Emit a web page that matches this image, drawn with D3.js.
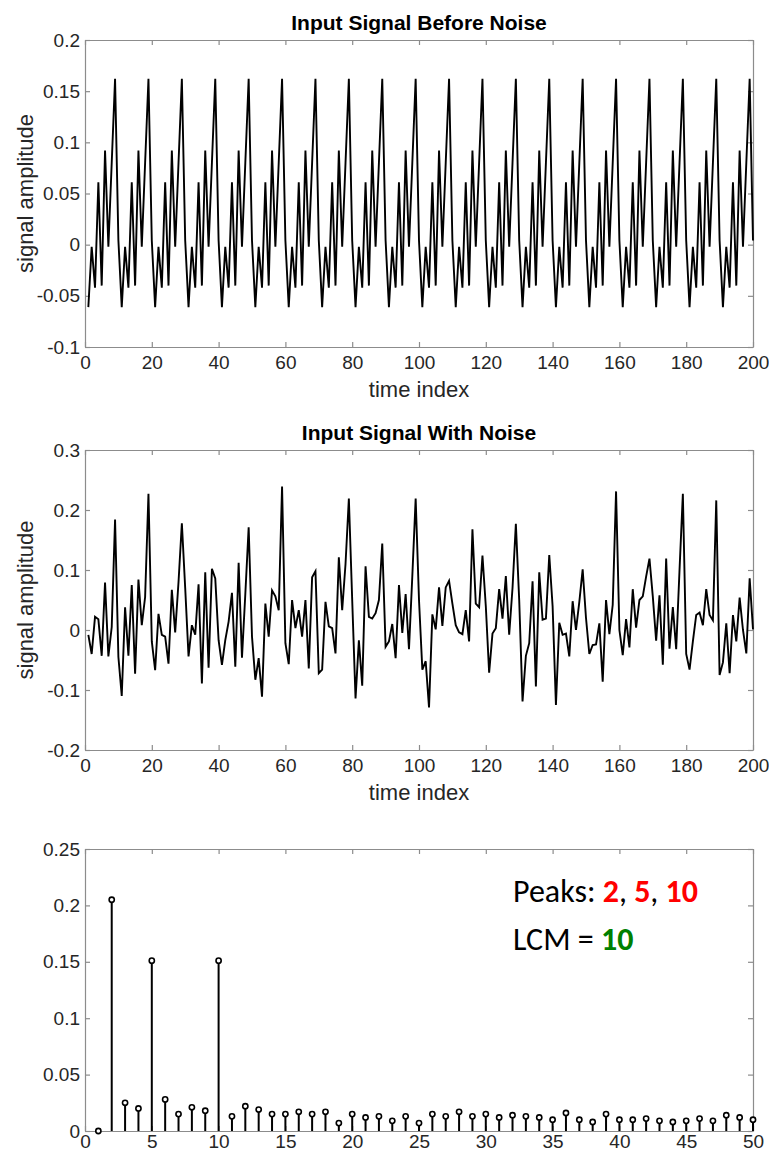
<!DOCTYPE html>
<html>
<head>
<meta charset="utf-8">
<script src="https://cdn.jsdelivr.net/npm/d3@7/dist/d3.min.js"></script>
<style>
    body { margin: 0; background: #fff; }
</style>
</head>
<body>
<div id="chart-area"></div>
<script>
    // Signal before noise, samples 1..200
    const cleanSignal = [
        -0.061, -0.002, -0.042, 0.061, -0.040, 0.092, -0.002, 0.080, 0.162, 0.004,
        -0.061, -0.002, -0.042, 0.061, -0.040, 0.092, -0.002, 0.080, 0.162, 0.004,
        -0.061, -0.002, -0.042, 0.061, -0.040, 0.092, -0.002, 0.080, 0.162, 0.004,
        -0.061, -0.002, -0.042, 0.061, -0.040, 0.092, -0.002, 0.080, 0.162, 0.004,
        -0.061, -0.002, -0.042, 0.061, -0.040, 0.092, -0.002, 0.080, 0.162, 0.004,
        -0.061, -0.002, -0.042, 0.061, -0.040, 0.092, -0.002, 0.080, 0.162, 0.004,
        -0.061, -0.002, -0.042, 0.061, -0.040, 0.092, -0.002, 0.080, 0.162, 0.004,
        -0.061, -0.002, -0.042, 0.061, -0.040, 0.092, -0.002, 0.080, 0.162, 0.004,
        -0.061, -0.002, -0.042, 0.061, -0.040, 0.092, -0.002, 0.080, 0.162, 0.004,
        -0.061, -0.002, -0.042, 0.061, -0.040, 0.092, -0.002, 0.080, 0.162, 0.004,
        -0.061, -0.002, -0.042, 0.061, -0.040, 0.092, -0.002, 0.080, 0.162, 0.004,
        -0.061, -0.002, -0.042, 0.061, -0.040, 0.092, -0.002, 0.080, 0.162, 0.004,
        -0.061, -0.002, -0.042, 0.061, -0.040, 0.092, -0.002, 0.080, 0.162, 0.004,
        -0.061, -0.002, -0.042, 0.061, -0.040, 0.092, -0.002, 0.080, 0.162, 0.004,
        -0.061, -0.002, -0.042, 0.061, -0.040, 0.092, -0.002, 0.080, 0.162, 0.004,
        -0.061, -0.002, -0.042, 0.061, -0.040, 0.092, -0.002, 0.080, 0.162, 0.004,
        -0.061, -0.002, -0.042, 0.061, -0.040, 0.092, -0.002, 0.080, 0.162, 0.004,
        -0.061, -0.002, -0.042, 0.061, -0.040, 0.092, -0.002, 0.080, 0.162, 0.004,
        -0.061, -0.002, -0.042, 0.061, -0.040, 0.092, -0.002, 0.080, 0.162, 0.004,
        -0.061, -0.002, -0.042, 0.061, -0.040, 0.092, -0.002, 0.080, 0.162, 0.004
    ];

    // Same signal with noise added, samples 1..200
    const noisySignal = [
        -0.008, -0.040, 0.022, 0.018, -0.043, 0.079, -0.044, 0.005, 0.184, -0.045,
        -0.110, 0.038, -0.043, 0.075, -0.073, 0.084, 0.008, 0.055, 0.227, -0.019,
        -0.067, 0.027, -0.008, -0.011, -0.056, 0.067, -0.004, 0.080, 0.178, 0.070,
        -0.044, 0.008, -0.008, 0.076, -0.089, 0.096, -0.063, 0.102, 0.086, -0.017,
        -0.058, -0.017, 0.014, 0.062, -0.061, 0.112, -0.046, 0.060, 0.171, -0.011,
        -0.083, -0.047, -0.111, 0.044, -0.011, 0.066, 0.056, 0.033, 0.239, -0.022,
        -0.057, 0.050, 0.003, 0.033, -0.011, 0.050, -0.064, 0.088, 0.098, -0.072,
        -0.066, 0.047, 0.006, 0.003, -0.039, 0.121, 0.033, 0.110, 0.219, 0.050,
        -0.114, -0.017, -0.093, 0.106, 0.022, 0.019, 0.028, 0.050, 0.144, -0.028,
        -0.019, 0.010, -0.047, 0.075, -0.005, 0.060, -0.032, 0.090, 0.219, 0.050,
        -0.066, -0.052, -0.129, 0.026, 0.001, 0.071, 0.007, 0.071, 0.082, 0.044,
        0.008, -0.004, -0.007, 0.033, -0.019, 0.168, 0.044, 0.038, 0.124, 0.040,
        -0.071, -0.006, 0.003, 0.068, 0.019, 0.090, -0.008, 0.070, 0.177, 0.050,
        -0.119, -0.043, -0.022, 0.081, -0.094, 0.096, 0.017, 0.019, 0.125, 0.040,
        -0.125, 0.012, -0.008, -0.006, -0.044, 0.048, 0.000, 0.047, 0.101, 0.020,
        -0.040, -0.025, -0.024, 0.011, -0.086, 0.050, -0.007, 0.042, 0.231, 0.000,
        -0.042, 0.018, -0.029, 0.068, 0.004, 0.050, 0.056, 0.089, 0.119, 0.056,
        -0.018, 0.058, -0.058, 0.119, -0.031, 0.038, -0.032, 0.100, 0.227, -0.040,
        -0.066, -0.019, 0.025, 0.029, 0.008, 0.068, 0.025, 0.016, 0.216, -0.075,
        -0.054, 0.011, -0.072, 0.025, -0.019, 0.054, 0.000, -0.039, 0.086, 0.001
    ];

    // Periodicity spectrum, periods 1..50
    const spectrum = [
        0.000, 0.205, 0.025, 0.020, 0.151, 0.028, 0.015, 0.021, 0.018, 0.151,
        0.013, 0.022, 0.019, 0.015, 0.015, 0.017, 0.015, 0.017, 0.007, 0.015,
        0.012, 0.013, 0.009, 0.013, 0.007, 0.015, 0.013, 0.017, 0.013, 0.015,
        0.012, 0.014, 0.013, 0.012, 0.010, 0.016, 0.010, 0.008, 0.015, 0.010,
        0.010, 0.011, 0.009, 0.008, 0.009, 0.011, 0.009, 0.014, 0.012, 0.010
    ];

    // Tick labels
    const timeTicks = [0, 20, 40, 60, 80, 100, 120, 140, 160, 180, 200];
    const cleanTicks = [-0.1, -0.05, 0, 0.05, 0.1, 0.15, 0.2];
    const noisyTicks = [-0.2, -0.1, 0, 0.1, 0.2, 0.3];
    const periodTicks = [0, 5, 10, 15, 20, 25, 30, 35, 40, 45, 50];
    const spectrumTicks = [0, 0.05, 0.1, 0.15, 0.2, 0.25];

    const WIDTH = 769;
    const HEIGHT = 1156;
    const LEFT = 85, RIGHT = 753;
    const AXIS_COLOR = '#8c8c8c';
    const TEXT_COLOR = '#262626';
    const FONT = '"Liberation Sans", Arial, sans-serif';

    const svg = d3.select('#chart-area').append('svg')
        .attr('width', WIDTH)
        .attr('height', HEIGHT)
        .style('display', 'block');

    svg.append('rect')
        .attr('width', WIDTH)
        .attr('height', HEIGHT)
        .attr('fill', '#fff');

    // Boxed MATLAB-style axes, inward ticks mirrored on all four sides
    function makeAxes(top, bottom, xDomain, yDomain, xTicks, yTicks, xPad) {
        const w = RIGHT - LEFT;
        const h = bottom - top;
        const g = svg.append('g').attr('transform', `translate(${LEFT},${top})`);

        const x = d3.scaleLinear().domain(xDomain).range([0, w]);
        const y = d3.scaleLinear().domain(yDomain).range([h, 0]);

        const fmt = d => String(d);

        const xAxis = g.append('g')
            .attr('transform', `translate(0,${h})`)
            .call(d3.axisBottom(x).tickValues(xTicks).tickFormat(fmt)
                .tickSize(-5).tickSizeOuter(0).tickPadding(xPad));
        const yAxis = g.append('g')
            .call(d3.axisLeft(y).tickValues(yTicks).tickFormat(fmt)
                .tickSize(-5).tickSizeOuter(0).tickPadding(5));
        const xTop = g.append('g')
            .call(d3.axisTop(x).tickValues(xTicks).tickFormat('')
                .tickSize(-5).tickSizeOuter(0));
        const yRight = g.append('g')
            .attr('transform', `translate(${w},0)`)
            .call(d3.axisRight(y).tickValues(yTicks).tickFormat('')
                .tickSize(-5).tickSizeOuter(0));

        [xAxis, yAxis, xTop, yRight].forEach(a => {
            a.selectAll('path, line').attr('stroke', AXIS_COLOR).attr('stroke-width', 1.2);
            a.selectAll('text')
                .attr('font-size', '19px')
                .attr('font-family', FONT)
                .attr('fill', TEXT_COLOR);
        });

        return {g, x, y, w, h};
    }

    function addLabels(ax, title, top) {
        svg.append('text')
            .attr('x', LEFT + ax.w / 2)
            .attr('y', top - 10)
            .attr('text-anchor', 'middle')
            .attr('font-family', FONT)
            .attr('font-weight', 'bold')
            .attr('font-size', '21px')
            .attr('fill', '#000')
            .text(title);
        svg.append('text')
            .attr('x', LEFT + ax.w / 2)
            .attr('y', top + ax.h + 50)
            .attr('text-anchor', 'middle')
            .attr('font-family', FONT)
            .attr('font-size', '22px')
            .attr('fill', TEXT_COLOR)
            .text('time index');
        svg.append('text')
            .attr('transform', `translate(33,${top + ax.h / 2}) rotate(-90)`)
            .attr('text-anchor', 'middle')
            .attr('font-family', FONT)
            .attr('font-size', '22px')
            .attr('fill', TEXT_COLOR)
            .text('signal amplitude');
    }

    const line = (ax) => d3.line()
        .x((d, i) => ax.x(i + 1))
        .y(d => ax.y(d));

    // Panel 1: signal before noise
    const top1 = 40, bottom1 = 347;
    const ax1 = makeAxes(top1, bottom1, [0, 200], [-0.1, 0.2], timeTicks, cleanTicks, 9);
    ax1.g.append('path')
        .datum(cleanSignal)
        .attr('d', line(ax1))
        .attr('fill', 'none')
        .attr('stroke', '#000')
        .attr('stroke-width', 1.9);
    addLabels(ax1, 'Input Signal Before Noise', top1);

    // Panel 2: signal with noise
    const top2 = 450, bottom2 = 750;
    const ax2 = makeAxes(top2, bottom2, [0, 200], [-0.2, 0.3], timeTicks, noisyTicks, 9);
    ax2.g.append('path')
        .datum(noisySignal)
        .attr('d', line(ax2))
        .attr('fill', 'none')
        .attr('stroke', '#000')
        .attr('stroke-width', 1.9);
    addLabels(ax2, 'Input Signal With Noise', top2);

    // Panel 3: stem plot of the spectrum
    const top3 = 849, bottom3 = 1131;
    const ax3 = makeAxes(top3, bottom3, [0, 50], [0, 0.25], periodTicks, spectrumTicks, 3);
    const stems = ax3.g.selectAll('.stem')
        .data(spectrum)
        .enter()
        .append('g')
        .attr('class', 'stem');
    stems.append('line')
        .attr('x1', (d, i) => ax3.x(i + 1))
        .attr('x2', (d, i) => ax3.x(i + 1))
        .attr('y1', ax3.y(0))
        .attr('y2', d => ax3.y(d))
        .attr('stroke', '#000')
        .attr('stroke-width', 2);
    stems.append('circle')
        .attr('cx', (d, i) => ax3.x(i + 1))
        .attr('cy', d => ax3.y(d))
        .attr('r', 2.6)
        .attr('fill', '#fff')
        .attr('stroke', '#000')
        .attr('stroke-width', 1.6);

    // Annotation
    const note = svg.append('g')
        .attr('font-family', 'Carlito, Calibri, Lato, sans-serif')
        .attr('font-size', '32px');
    const peaks = note.append('text').attr('x', 513).attr('y', 902);
    peaks.append('tspan').attr('fill', '#000').text('Peaks: ');
    peaks.append('tspan').attr('fill', '#ff0000').attr('font-weight', 'bold').text('2');
    peaks.append('tspan').attr('fill', '#000').text(', ');
    peaks.append('tspan').attr('fill', '#ff0000').attr('font-weight', 'bold').text('5');
    peaks.append('tspan').attr('fill', '#000').text(', ');
    peaks.append('tspan').attr('fill', '#ff0000').attr('font-weight', 'bold').text('10');
    const lcm = note.append('text').attr('x', 513).attr('y', 950);
    lcm.append('tspan').attr('fill', '#000').text('LCM = ');
    lcm.append('tspan').attr('fill', '#008000').attr('font-weight', 'bold').text('10');
</script>
</body>
</html>
